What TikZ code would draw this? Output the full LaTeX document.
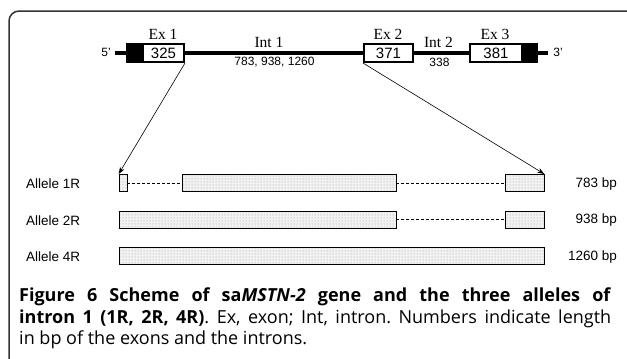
\documentclass[tikz,border=0pt]{standalone}
\usepackage{fontspec}
\setmainfont{Liberation Sans}
\newfontfamily\capfont{Open Sans}
\newfontfamily\timesfont{Liberation Serif}
\usetikzlibrary{arrows.meta,patterns}
\frenchspacing
\tikzstyle{exon} = [draw=black, line width=2pt, fill=white, inner sep=0pt, minimum height=18pt, font=\fontsize{15}{15}\selectfont]
\tikzstyle{endcap} = [fill=black, inner sep=0pt, minimum height=20pt]
\tikzstyle{gene} = [line width=4pt]
\tikzstyle{elabel} = [font=\timesfont\fontsize{15.5}{15.5}\selectfont, inner sep=0pt]
\tikzstyle{small} = [font=\fontsize{12}{12}\selectfont, inner sep=0pt]
\tikzstyle{seg} = [draw=black, line width=0.6pt, preaction={fill=gray!10}, pattern=dots, pattern color=gray!80, inner sep=0pt, minimum height=17.4pt]
\tikzstyle{gap} = [line width=0.6pt, dash pattern=on 3pt off 2pt]
\tikzstyle{allele} = [font=\fontsize{13.5}{13.5}\selectfont, inner sep=0pt]
\tikzstyle{link} = [-{Stealth[length=7pt,width=5pt]}, line width=0.6pt]
\tikzstyle{capnode} = [align=left, inner sep=0pt, font=\capfont\fontsize{18}{21.5}\selectfont]
\newcommand{\capline}[1]{\makebox[592pt][s]{#1}}

\begin{document}
\begin{tikzpicture}[x=1pt,y=-1pt]
  \useasboundingbox (0,0) rectangle (627,359);
  \draw[line width=1.5pt, rounded corners=10pt, black!80] (9,362) -- (9,11) -- (630,11);
  % gene
  \coordinate (g5) at (115,53);
  \coordinate (g3) at (548,53);
  \node[endcap, minimum width=17pt](b1) at (134.5,53){};
  \node[endcap, minimum width=16pt](b3) at (530,53){};
  \node[exon, minimum width=41pt](e1) at (163.5,53){325};
  \node[exon, minimum width=49pt](e2) at (388.5,53){371};
  \node[exon, minimum width=52pt](e3) at (496,53){381};
  \draw[gene](g5)--(b1.west);
  \draw[gene](e1.east)--(e2.west);
  \draw[gene](e2.east)--(e3.west);
  \draw[gene](b3.east)--(g3);
  \node[small](p5) at (106,52){5'};
  \node[small](p3) at (558,52){3'};
  \node[elabel](l1) at (163,34){Ex 1};
  \node[elabel](l2) at (388,34){Ex 2};
  \node[elabel](l3) at (495,34){Ex 3};
  \node[elabel](i1) at (269,42.5){Int 1};
  \node[elabel](i2) at (438.5,42.5){Int 2};
  \node[small](n1) at (274.5,62.5){783, 938, 1260};
  \node[small](n2) at (439.5,62.5){338};
  % alleles
  \node[seg, minimum width=8pt](r1a) at (123,183){};
  \node[seg, minimum width=214pt](r1b) at (289,183){};
  \node[seg, minimum width=39pt](r1c) at (524.5,183){};
  \node[seg, minimum width=277pt](r2a) at (257.5,219.5){};
  \node[seg, minimum width=39pt](r2c) at (524.5,219.5){};
  \node[seg, minimum width=425pt](r3a) at (331.5,256){};
  \draw[gap](r1a)--(r1b);
  \draw[gap](r1b)--(r1c);
  \draw[gap](r2a)--(r2c);
  \node[allele, anchor=west](a1) at (26,184){Allele 1R};
  \node[allele, anchor=west](a2) at (26,220.5){Allele 2R};
  \node[allele, anchor=west](a4) at (26,257){Allele 4R};
  \node[allele, anchor=east](s1) at (617,184){783 bp};
  \node[allele, anchor=east](s2) at (617,220.5){938 bp};
  \node[allele, anchor=east](s4) at (617,257){1260 bp};
  \draw[link](e1.south east)--(r1a.north west);
  \draw[link](e2.south west)--(r1c.north east);
  % caption
  \node[capnode, anchor=north west](cap) at (19,288){\capline{\textbf{Figure 6 Scheme of sa\textit{MSTN-2} gene and the three alleles of}}\\
    \capline{\textbf{intron 1 (1R, 2R, 4R)}. Ex, exon; Int, intron. Numbers indicate length}\\
    in bp of the exons and the introns.};
\end{tikzpicture}
\end{document}
